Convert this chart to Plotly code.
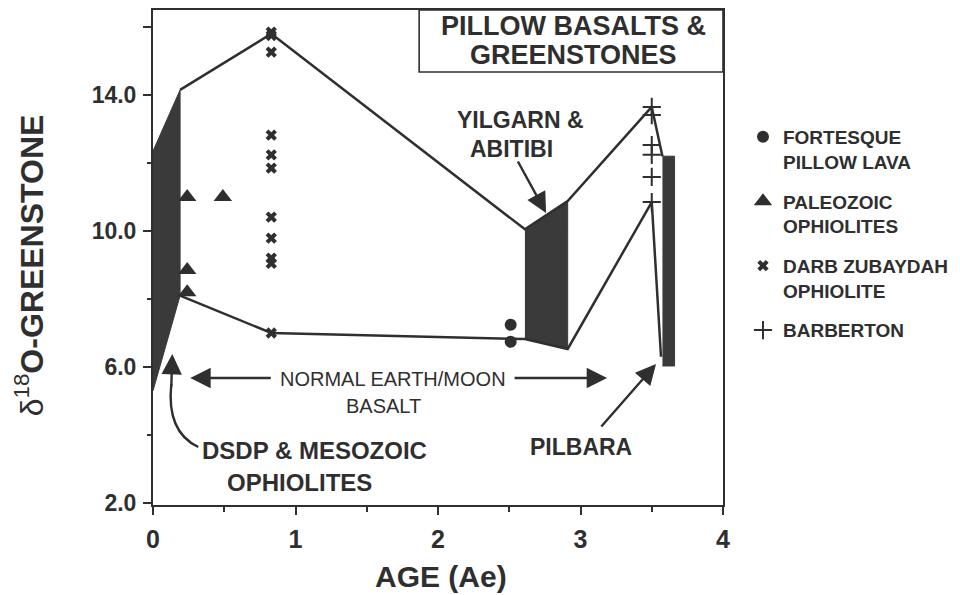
import plotly.graph_objects as go

# ---------------- data ----------------
fortesque_age = [2.51, 2.51]
fortesque_d18o = [7.24, 6.74]

paleozoic_age = [0.24, 0.49, 0.24, 0.24]
paleozoic_d18o = [11.0, 11.0, 8.85, 8.2]

darb_age = [0.83, 0.83, 0.83, 0.83, 0.83, 0.83, 0.83, 0.83, 0.83, 0.83, 0.83]
darb_d18o = [15.85, 15.75, 15.26, 12.82, 12.24, 11.85, 10.41, 9.79, 9.2, 9.05, 7.0]

barberton_age = [3.50, 3.50, 3.50, 3.50, 3.50, 3.50]
barberton_d18o = [13.65, 13.41, 12.53, 12.24, 11.59, 10.85]

upper_age = [0.19, 0.83, 2.61, 2.91, 3.50, 3.575]
upper_d18o = [14.15, 15.8, 10.05, 10.88, 13.65, 12.2]

lower_age = [0.19, 0.83, 2.61, 2.91, 3.50, 3.565]
lower_d18o = [8.1, 7.0, 6.82, 6.53, 10.85, 6.3]

dsdp_age = [0.0, 0.19, 0.19, 0.0]
dsdp_d18o = [12.35, 14.15, 8.1, 5.3]

yilgarn_age = [2.61, 2.91, 2.91, 2.61]
yilgarn_d18o = [10.05, 10.88, 6.53, 6.82]

pilbara_age = [3.575, 3.66, 3.66, 3.575]
pilbara_d18o = [12.2, 12.2, 6.03, 6.03]

y_tickvals = [2, 6, 10, 14, 16]
y_ticktext = ["2.0", "6.0", "10.0", "14.0", " "]
x_tickvals = [0, 1, 2, 3, 4]
x_ticktext = ["0", "1", "2", "3", "4"]

# ---------------- styling ----------------
INK = "#2f2f2f"
FILL = "#3a3a3a"
FONT = "Liberation Sans, Arial, Helvetica, sans-serif"

W, H = 960, 595
L, R, T, B = 152.7, 723.0, 10.0, 505.0


def px(xp):
    return (xp - L) / (R - L)


def py(yp):
    return (B - yp) / (B - T)


fig = go.Figure()

for ax_, ay_ in [(dsdp_age, dsdp_d18o), (yilgarn_age, yilgarn_d18o), (pilbara_age, pilbara_d18o)]:
    fig.add_trace(go.Scatter(x=ax_, y=ay_, mode="lines", fill="toself", fillcolor=FILL,
                             line=dict(color=FILL, width=1), showlegend=False, hoverinfo="skip"))

for ax_, ay_ in [(upper_age, upper_d18o), (lower_age, lower_d18o)]:
    fig.add_trace(go.Scatter(x=ax_, y=ay_, mode="lines", line=dict(color=INK, width=2.5),
                             showlegend=False, hoverinfo="skip"))

fig.add_trace(go.Scatter(x=fortesque_age, y=fortesque_d18o, mode="markers",
                         name="FORTESQUE<br>PILLOW LAVA", legendgroup="g1",
                         marker=dict(symbol="circle", size=12, color=INK)))
fig.add_trace(go.Scatter(x=paleozoic_age, y=paleozoic_d18o, mode="markers",
                         name="PALEOZOIC<br>OPHIOLITES", legendgroup="g2",
                         marker=dict(symbol="triangle-up", size=16, color=INK)))
fig.add_trace(go.Scatter(x=darb_age, y=darb_d18o, mode="markers",
                         name="DARB ZUBAYDAH<br>OPHIOLITE", legendgroup="g3",
                         marker=dict(symbol="x", size=10, color=INK, line=dict(width=0))))
fig.add_trace(go.Scatter(x=barberton_age, y=barberton_d18o, mode="markers",
                         name="BARBERTON", legendgroup="g4",
                         marker=dict(symbol="cross-thin", size=13, color=INK,
                                     line=dict(color=INK, width=2))))

ann = []


def label(text, xp, yp, size, bold=True):
    ann.append(dict(text=f"<b>{text}</b>" if bold else text, x=px(xp), y=py(yp),
                    xref="paper", yref="paper", showarrow=False, xanchor="center", yanchor="middle",
                    font=dict(family=FONT, size=size, color=INK)))


def arrow(tail, tip):
    ann.append(dict(text="", x=px(tip[0]), y=py(tip[1]), xref="paper", yref="paper",
                    ax=tail[0] - tip[0], ay=tail[1] - tip[1], showarrow=True,
                    arrowhead=2, arrowsize=1.7, arrowwidth=2.4, arrowcolor=INK))


label("PILLOW BASALTS &", 573, 26, 27)
label("GREENSTONES", 573, 55, 27)
label("YILGARN &", 520, 120, 23)
label("ABITIBI", 511, 149, 23)
label("NORMAL EARTH/MOON", 393, 379, 20, bold=False)
label("BASALT", 383, 406, 20, bold=False)
label("DSDP & MESOZOIC", 314, 450, 24)
label("OPHIOLITES", 299, 482, 24)
label("PILBARA", 581, 447, 23)

arrow((517, 160), (546, 213))
arrow((272, 378), (190, 378))
arrow((513, 378), (607, 378))
arrow((600, 428), (656, 364))
arrow((171, 388), (172, 354))

# axis titles
ann.append(dict(text="<b>AGE (Ae)</b>", x=px(441), y=py(576), xref="paper", yref="paper",
                xanchor="center", yanchor="middle",
                showarrow=False, font=dict(family=FONT, size=30, color=INK)))
ann.append(dict(text="δ<sup>18</sup><b>O-GREENSTONE</b>", x=px(29), y=py(265), xref="paper",
                yref="paper", xanchor="center", yanchor="middle", showarrow=False, textangle=-90,
                font=dict(family=FONT, size=32, color=INK)))

shapes = [
    dict(type="rect", xref="paper", yref="paper", x0=px(419), x1=1.0, y0=py(72), y1=1.0,
         line=dict(color=INK, width=1.6), fillcolor="rgba(0,0,0,0)"),
    dict(type="path", xref="paper", yref="paper",
         path=f"M {px(198)},{py(447)} Q {px(166)},{py(432)} {px(171)},{py(384)}",
         line=dict(color=INK, width=2.4)),
]

fig.update_layout(
    width=W, height=H,
    margin=dict(l=L, r=W - R, t=T, b=H - B, autoexpand=False),
    paper_bgcolor="white", plot_bgcolor="white",
    font=dict(family=FONT, color=INK),
    annotations=ann, shapes=shapes,
    showlegend=True,
    legend=dict(x=px(743), y=py(118), xanchor="left", yanchor="top", valign="top",
                font=dict(family=FONT, size=19, color=INK), tracegroupgap=12,
                bgcolor="rgba(0,0,0,0)", itemsizing="trace"),
    hovermode=False,
)

fig.update_xaxes(range=[0, 4], showgrid=False, zeroline=False, showline=True, mirror=True,
                 linecolor=INK, linewidth=2, ticks="outside", ticklen=8, tickwidth=2, tickcolor=INK,
                 tickvals=x_tickvals, ticktext=[f"<b>{t}</b>" for t in x_ticktext],
                 tickfont=dict(family=FONT, size=25, color=INK), ticklabelstandoff=3,
                 automargin=False,
                 minor=dict(tickvals=[0.5, 1.5, 2.5, 3.5], ticks="outside", ticklen=5, tickwidth=2,
                            tickcolor=INK))
fig.update_yaxes(range=[2 - 2 / 34, 16.5], showgrid=False, zeroline=False, showline=True, mirror=True,
                 linecolor=INK, linewidth=2, ticks="outside", ticklen=8, tickwidth=2, tickcolor=INK,
                 tickvals=y_tickvals, ticktext=[f"<b>{t}</b>" for t in y_ticktext],
                 tickfont=dict(family=FONT, size=23, color=INK), ticklabelstandoff=2,
                 automargin=False,
                 minor=dict(tickvals=[4, 8, 12], ticks="outside", ticklen=4, tickwidth=2,
                            tickcolor=INK))

# bold legend labels
for tr in fig.data:
    if tr.name:
        tr.name = "<b>" + tr.name.replace("<br>", "</b><br><b>") + "</b>"

fig.write_html("out.html", config={"displayModeBar": False},
               post_script="document.body.style.margin='0';document.body.style.padding='0';")
